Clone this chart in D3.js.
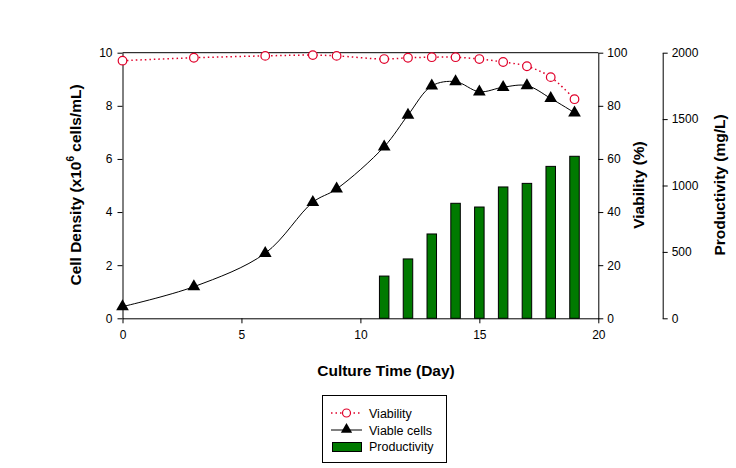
<!DOCTYPE html>
<html><head><meta charset="utf-8">
<script src="https://cdn.jsdelivr.net/npm/d3@7"></script>
<style>body{margin:0;background:#fff}svg{font-family:"Liberation Sans",Arial,sans-serif}</style>
</head><body><svg id="c" width="736" height="468"></svg>
<script>
const days = [0,3,6,8,9,11,12,13,14,15,16,17,18,19];
const viableCells = [0.44,1.19,2.45,4.37,4.87,6.46,7.65,8.75,8.91,8.53,8.70,8.76,8.28,7.74];
const viability = [97.0,98.1,98.8,99.1,98.8,97.6,98.1,98.3,98.3,97.6,96.5,94.9,90.8,82.5];
const prodDays = [11,12,13,14,15,16,17,18,19];
const productivity = [318,447,635,866,838,989,1016,1144,1220];
const xTicks = [0,5,10,15,20];
const cellTicks = [0,2,4,6,8,10];
const viaTicks = [0,20,40,60,80,100];
const prodTicks = [0,500,1000,1500,2000];

const svg = d3.select("#c");
const L=122.5, R=598.3, T=52.7, B=318.3;
const x = d3.scaleLinear().domain([0,20]).range([L,R]);
const yC = d3.scaleLinear().domain([0,10]).range([B,T]);
const yV = d3.scaleLinear().domain([0,100]).range([B,T]);
const yP = d3.scaleLinear().domain([0,2000]).range([B,T]);

// frame top
svg.append("line").attr("x1",L).attr("x2",R).attr("y1",T).attr("y2",T).attr("stroke","#000");

const fs = "12px";
function style(g){ g.selectAll("text").attr("font-size",fs).attr("fill","#000").attr("font-family","Liberation Sans, Arial, sans-serif"); g.selectAll("path,line").attr("stroke","#000"); }
const fmt = d3.format("d");

svg.append("g").attr("transform",`translate(0,${B})`)
  .call(d3.axisBottom(x).tickValues(xTicks).tickFormat(fmt).tickSize(5).tickSizeOuter(0).tickPadding(7)).call(style);
svg.append("g").attr("transform",`translate(${L},0)`)
  .call(d3.axisLeft(yC).tickValues(cellTicks).tickFormat(fmt).tickSize(5).tickSizeOuter(0).tickPadding(5)).call(style);
svg.append("g").attr("transform",`translate(${R},0)`)
  .call(d3.axisRight(yV).tickValues(viaTicks).tickFormat(fmt).tickSize(5).tickSizeOuter(0).tickPadding(4)).call(style);
svg.append("g").attr("transform",`translate(662.7,0)`)
  .call(d3.axisRight(yP).tickValues(prodTicks).tickFormat(fmt).tickSize(5).tickSizeOuter(0).tickPadding(4)).call(style);
svg.selectAll(".domain").attr("stroke","#000");

// bars
const bw = 9.5;
svg.append("g").selectAll("rect").data(prodDays).join("rect")
  .attr("x",(d)=>x(d)-bw/2).attr("width",bw)
  .attr("y",(d,i)=>yP(productivity[i])).attr("height",(d,i)=>B-yP(productivity[i]))
  .attr("fill","#007a00").attr("stroke","#000").attr("stroke-width",1);

// viable cells line
const lineC = d3.line().x((d,i)=>x(days[i])).y(d=>yC(d)).curve(d3.curveCatmullRom.alpha(0.5));
svg.append("path").datum(viableCells).attr("d",lineC).attr("fill","none").attr("stroke","#000").attr("stroke-width",1);
const tri = d3.symbol().type(d3.symbolTriangle).size(70);
svg.append("g").selectAll("path").data(viableCells).join("path")
  .attr("transform",(d,i)=>`translate(${x(days[i])},${yC(d)})`).attr("d",tri).attr("fill","#000");

// viability line
const lineV = d3.line().x((d,i)=>x(days[i])).y(d=>yV(d)).curve(d3.curveCatmullRom.alpha(0.5));
svg.append("path").datum(viability).attr("d",lineV).attr("fill","none").attr("stroke","#e0002a").attr("stroke-width",1.5).attr("stroke-dasharray","1.5,3");
svg.append("g").selectAll("circle").data(viability).join("circle")
  .attr("cx",(d,i)=>x(days[i])).attr("cy",d=>yV(d)).attr("r",4.3)
  .attr("fill","#fff").attr("stroke","#e0002a").attr("stroke-width",1.2);

// titles
function title(xx,yy,rot){ return svg.append("text").attr("transform",`translate(${xx},${yy}) rotate(${rot})`).attr("text-anchor","middle").attr("font-size","15.5px").attr("font-weight","bold"); }
const t1 = title(81,185,-90);
t1.append("tspan").text("Cell Density (x10");
t1.append("tspan").text("6").attr("font-size","10px").attr("dy","-7");
t1.append("tspan").text(" cells/mL)").attr("dy","7");
title(644,185,-90).text("Viability (%)");
title(725,185,-90).text("Productivity (mg/L)");
svg.append("text").attr("x",386).attr("y",376).attr("text-anchor","middle").attr("font-size","15.5px").attr("font-weight","bold").text("Culture Time (Day)");

// legend
const lg = svg.append("g");
lg.append("rect").attr("x",322.5).attr("y",395.5).attr("width",124).attr("height",67).attr("fill","#fff").attr("stroke","#000");
lg.append("line").attr("x1",331).attr("x2",362).attr("y1",413).attr("y2",413).attr("stroke","#e0002a").attr("stroke-width",1.5).attr("stroke-dasharray","1.5,3");
lg.append("circle").attr("cx",346.5).attr("cy",413).attr("r",4).attr("fill","#fff").attr("stroke","#e0002a").attr("stroke-width",1.2);
lg.append("line").attr("x1",331).attr("x2",362).attr("y1",430).attr("y2",430).attr("stroke","#000");
lg.append("path").attr("transform","translate(346.5,429.5)").attr("d",d3.symbol().type(d3.symbolTriangle).size(55)()).attr("fill","#000");
lg.append("rect").attr("x",332.5).attr("y",442.5).attr("width",29).attr("height",9).attr("fill","#007a00").attr("stroke","#000");
const lt = [["Viability",417.5],["Viable cells",434.5],["Productivity",451]];
lg.selectAll("text").data(lt).join("text").attr("x",369).attr("y",d=>d[1]).attr("font-size","12.5px").text(d=>d[0]);
</script></body></html>
